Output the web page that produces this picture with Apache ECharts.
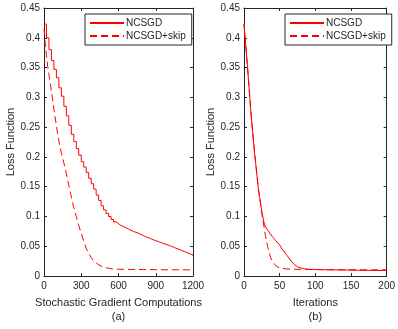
<!DOCTYPE html>
<html><head><meta charset="utf-8">
<script src="https://cdn.jsdelivr.net/npm/echarts@6/dist/echarts.min.js"></script>
<style>html,body{margin:0;padding:0;background:#fff}#c{width:398px;height:329px}</style>
</head><body><div id="c"></div>
<script>
// Panel (a): stochastic gradient computations
const leftSolidX = [0,20,40,60,80,100,120,140,160,180,200,220,240,260,280,300,320,340,360,380,400,420,440,460,480,500,520,540,560,580,600,620,640,660,680,700,720,740,760,780,800,820,840,860,880,900,920,940,960,980,1000,1020,1040,1060,1080,1100,1120,1140,1160,1180,1200];
const leftSolidY = [0.423,0.400,0.380,0.362,0.347,0.333,0.316,0.302,0.285,0.269,0.253,0.238,0.226,0.214,0.203,0.192,0.183,0.174,0.164,0.155,0.146,0.136,0.127,0.118,0.111,0.105,0.100,0.095,0.091,0.088,0.085,0.083,0.081,0.079,0.077,0.075,0.0735,0.072,0.070,0.068,0.066,0.0645,0.063,0.061,0.0595,0.058,0.0565,0.055,0.0535,0.052,0.0505,0.049,0.047,0.0455,0.044,0.042,0.0405,0.039,0.037,0.0355,0.034];
const leftDashX = [0,10,20,30,40,60,80,100,120,140,160,180,200,220,240,260,280,300,320,340,360,380,400,420,440,460,480,500,550,600,700,800,900,1000,1100,1200];
const leftDashY = [0.415,0.39,0.37,0.352,0.338,0.31,0.28,0.252,0.226,0.206,0.19,0.172,0.152,0.133,0.115,0.1,0.085,0.072,0.058,0.047,0.038,0.031,0.026,0.022,0.019,0.017,0.015,0.014,0.012,0.0115,0.0112,0.011,0.0108,0.0106,0.0105,0.0105];
// Panel (b): iterations
const rightSolidX = [0,5,10,15,20,25,28,30,35,40,45,50,55,60,65,70,75,80,85,90,100,120,140,160,180,200];
const rightSolidY = [0.423,0.35,0.27,0.205,0.148,0.108,0.09,0.083,0.074,0.066,0.059,0.052,0.043,0.035,0.027,0.020,0.0155,0.0135,0.012,0.0115,0.011,0.0105,0.0102,0.0098,0.0095,0.0093];
const rightDashX = [0,5,10,15,20,25,28,30,33,37,40,45,50,60,80,100,120,140,160,180,200];
const rightDashY = [0.423,0.35,0.27,0.205,0.148,0.105,0.083,0.068,0.05,0.032,0.024,0.017,0.0135,0.012,0.0112,0.011,0.0108,0.0107,0.0106,0.0106,0.0105];
const seriesNames = ['NCSGD','NCSGD+skip'];
const xTitles = ['Stochastic Gradient Computations\n(a)','Iterations\n(b)'];
const yTitle = 'Loss Function';

const AX = '#262626';
const FONT = 'Liberation Sans';
const zip = (xs, ys) => xs.map((x, i) => [x, ys[i]]);
const fmt = v => String(+v.toFixed(4));

function xAx(gi, max, interval, name, main) {
  return {
    type: 'value', gridIndex: gi, min: 0, max: max, interval: interval,
    position: main ? 'bottom' : 'top',
    name: main ? name : '', nameLocation: 'middle', nameGap: 13,
    nameTextStyle: {color: AX, fontFamily: FONT, fontSize: 11, lineHeight: 14, verticalAlign: 'top'},
    axisLine: {show: true, onZero: false, lineStyle: {color: AX, width: 1}},
    axisTick: {show: true, inside: true, length: 3, lineStyle: {color: AX}},
    axisLabel: {show: main, color: AX, fontFamily: FONT, fontSize: 10, margin: 5, formatter: fmt},
    splitLine: {show: false}
  };
}
function yAx(gi, main) {
  return {
    type: 'value', gridIndex: gi, min: 0, max: 0.45, interval: 0.05,
    position: main ? 'left' : 'right',
    name: main ? yTitle : '', nameLocation: 'middle', nameGap: 24,
    nameTextStyle: {color: AX, fontFamily: FONT, fontSize: 11},
    axisLine: {show: true, onZero: false, lineStyle: {color: AX, width: 1}},
    axisTick: {show: true, inside: true, length: 3, lineStyle: {color: AX}},
    axisLabel: {show: main, color: AX, fontFamily: FONT, fontSize: 10, margin: 4, formatter: fmt},
    splitLine: {show: false}
  };
}
function line(name, xi, yi, data, dashed, step) {
  return {
    name: name, type: 'line', xAxisIndex: xi, yAxisIndex: yi, data: data,
    symbol: 'none', step: step || false, animation: false,
    lineStyle: {color: '#ff0000', width: 1, type: dashed ? [7, 4] : 'solid'},
    itemStyle: {color: '#ff0000'}
  };
}
function legend(left) {
  return {
    data: seriesNames, orient: 'vertical', left: left, top: 14,
    width: 94, padding: [4, 6, 4, 4], itemGap: 3, itemWidth: 34, itemHeight: 10,
    backgroundColor: '#fff', borderColor: AX, borderWidth: 1, borderRadius: 0,
    selectedMode: false,
    itemStyle: {opacity: 0},
    textStyle: {color: AX, fontFamily: FONT, fontSize: 10, padding: [0,0,0,-3]}
  };
}

const chart = echarts.init(document.getElementById('c'), null, {renderer: 'canvas'});
chart.setOption({
  animation: false,
  backgroundColor: '#fff',
  grid: [
    {left: 44, right: 205, top: 8, bottom: 51},
    {left: 244, right: 5, top: 8, bottom: 51}
  ],
  xAxis: [xAx(0, 1200, 300, xTitles[0], true), xAx(0, 1200, 300, '', false),
          xAx(1, 200, 50, xTitles[1], true), xAx(1, 200, 50, '', false)],
  yAxis: [yAx(0, true), yAx(0, false), yAx(1, true), yAx(1, false)],
  legend: [legend(85), legend(285)],
  series: [
    line(seriesNames[0], 0, 0, zip(leftSolidX, leftSolidY), false, 'end'),
    line(seriesNames[1], 0, 0, zip(leftDashX, leftDashY), true),
    line(seriesNames[0], 2, 2, zip(rightSolidX, rightSolidY), false),
    line(seriesNames[1], 2, 2, zip(rightDashX, rightDashY), true)
  ]
});
</script></body></html>
